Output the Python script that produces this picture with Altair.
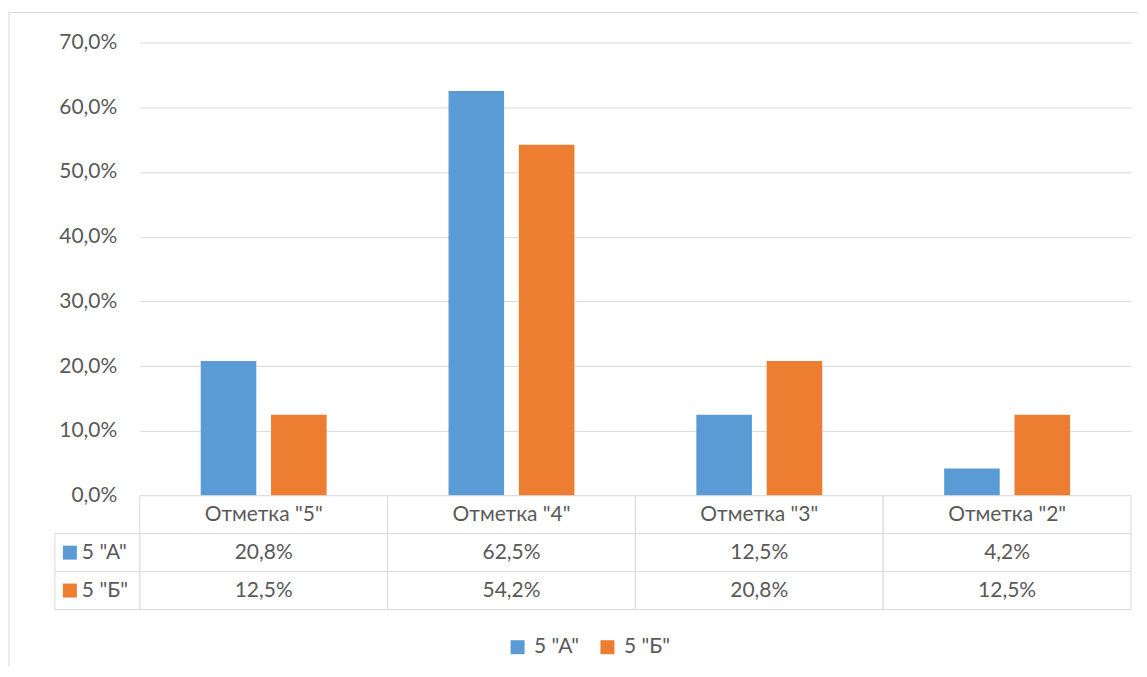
import altair as alt
import pandas as pd

categories = ['Отметка "5"', 'Отметка "4"', 'Отметка "3"', 'Отметка "2"']
series = ['5 "А"', '5 "Б"']
values_a = [0.208, 0.625, 0.125, 0.042]
values_b = [0.125, 0.542, 0.208, 0.125]
colors = ["#5B9BD5", "#ED7D31"]
y_ticks = [0.0, 0.1, 0.2, 0.3, 0.4, 0.5, 0.6, 0.7]

FONT = "Lato, Carlito, 'Open Sans', sans-serif"
TXT = "#595959"
GRID = "#d9d9d9"
FS = 21


def pct(v):
    return f"{v * 100:.1f}%".replace(".", ",")


rows = []
for c, a, b in zip(categories, values_a, values_b):
    rows.append({"cat": c, "series": series[0], "val": a})
    rows.append({"cat": c, "series": series[1], "val": b})
bars_df = pd.DataFrame(rows)

table_rows = []
for c, a, b in zip(categories, values_a, values_b):
    table_rows.append({"cat": c, "row": "h", "label": c})
    table_rows.append({"cat": c, "row": series[0], "label": pct(a)})
    table_rows.append({"cat": c, "row": series[1], "label": pct(b)})
table_df = pd.DataFrame(table_rows)
side_df = pd.DataFrame({"row": series, "series": series})

row_domain = ["h"] + series
color_scale = alt.Scale(domain=series, range=colors)

W = 993
H = 454

legend = alt.Legend(title=None, orient="none", legendX=368, legendY=595,
                    direction="horizontal", symbolType="square", symbolSize=196,
                    symbolStrokeWidth=0, labelFont=FONT, labelFontSize=FS,
                    labelColor=TXT, labelOffset=6, columnPadding=18)

bars = alt.Chart(bars_df).mark_bar().encode(
    x=alt.X("cat:N", sort=categories,
            scale=alt.Scale(paddingInner=0.492, paddingOuter=0.246), axis=None),
    xOffset=alt.XOffset("series:N", sort=series, scale=alt.Scale(paddingInner=0.21)),
    y=alt.Y("val:Q", scale=alt.Scale(domain=[0, 0.7], nice=False),
            axis=alt.Axis(values=y_ticks, labelExpr="replace(format(datum.value, '.1%'), '.', ',')",
                          grid=True, gridColor=GRID, gridWidth=1, domain=False, ticks=False,
                          labelPadding=23, title=None, labelFont=FONT, labelFontSize=FS,
                          labelColor=TXT)),
    color=alt.Color("series:N", scale=color_scale, legend=legend),
)

border_top = alt.Chart(pd.DataFrame({"k": [0]})).mark_rule(color=GRID, strokeWidth=1).encode(
    x=alt.value(-131), x2=alt.value(1000), y=alt.value(-30)
)
border_left = alt.Chart(pd.DataFrame({"k": [0]})).mark_rule(color=GRID, strokeWidth=1).encode(
    x=alt.value(-131), y=alt.value(-30), y2=alt.value(625)
)

top = alt.layer(bars, border_top, border_left).properties(width=W, height=H)

xt = alt.X("cat:N", sort=categories, scale=alt.Scale(paddingInner=0, paddingOuter=0), axis=None)
yt = alt.Y("row:N", sort=row_domain, scale=alt.Scale(domain=row_domain, paddingInner=0, paddingOuter=0), axis=None)

cells = alt.Chart(table_df).mark_rect(fill="white", stroke=GRID, strokeWidth=1).encode(x=xt, y=yt)
cell_text = alt.Chart(table_df).mark_text(font=FONT, fontSize=FS, color=TXT, baseline="middle").encode(
    x=xt, y=yt, text="label:N"
)
side_cells = alt.Chart(side_df).mark_rect(fill="white", stroke=GRID, strokeWidth=1).encode(
    x=alt.value(-85), x2=alt.value(0), y=yt
)
side_sq = alt.Chart(side_df).mark_square(size=196, opacity=1, strokeWidth=0).encode(
    x=alt.value(-70), y=yt,
    color=alt.Color("series:N", scale=color_scale, legend=legend),
)
side_text = alt.Chart(side_df).mark_text(font=FONT, fontSize=FS, color=TXT, baseline="middle", align="left").encode(
    x=alt.value(-58), y=yt, text="series:N"
)

table = alt.layer(cells, cell_text, side_cells, side_sq, side_text).properties(width=W, height=114)

chart = alt.vconcat(top, table, spacing=0, bounds="flush").properties(
    padding={"left": 0, "top": 3, "right": 0, "bottom": 0}
).configure_view(stroke=None)

chart.save("out.html", embed_options={"renderer": "svg", "actions": False})
